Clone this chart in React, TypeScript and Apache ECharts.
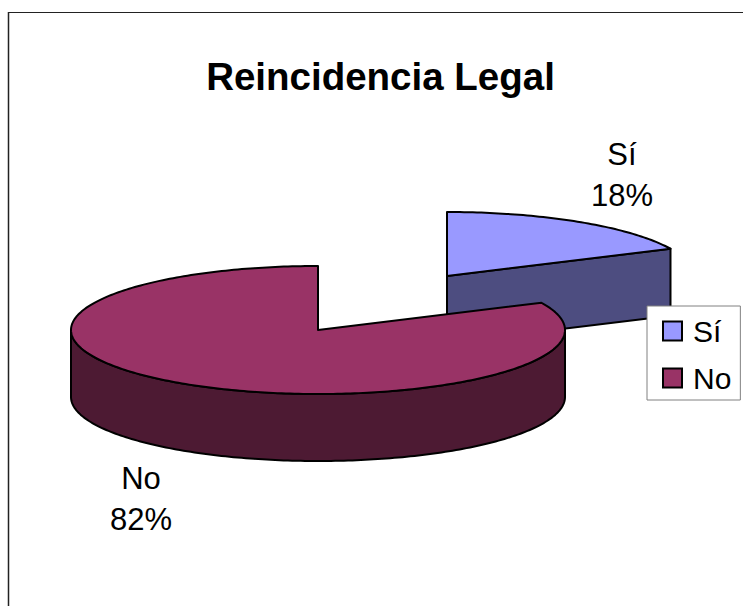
import React, { useEffect, useRef } from "react";
import * as echarts from "echarts";

const categories = ["Sí", "No"];
const values = [18, 82];
const topColors = ["#9999FF", "#993366"];
const sideColors = ["#4D4D80", "#4D1A33"];
const titleText = "Reincidencia Legal";

const FONT = "Liberation Sans, Arial, sans-serif";
const RX = 247;
const RY = 64;
const DEPTH = 67;
const centres = [
  [447, 276],
  [318, 330],
];
const labelAnchors = [
  [622, 175],
  [141, 499],
];
const total = values.reduce((a, b) => a + b, 0);

function startAngle(index: number) {
  let sum = 0;
  for (let i = 0; i < index; i++) sum += values[i];
  return (sum / total) * 360;
}

function rim(cx: number, cy: number, from: number, to: number, dy = 0) {
  const pts: number[][] = [];
  const n = Math.max(2, Math.ceil(Math.abs(to - from)));
  for (let i = 0; i <= n; i++) {
    const t = ((from + ((to - from) * i) / n) * Math.PI) / 180;
    pts.push([cx + RX * Math.sin(t), cy - RY * Math.cos(t) + dy]);
  }
  return pts;
}

const edge = { stroke: "#000", lineWidth: 2, lineJoin: "round" as const };

function poly(points: number[][], fill: string) {
  return { type: "polygon", shape: { points }, style: { fill, ...edge } };
}

function renderSlice(index: number) {
  return (_params: any, api: any) => {
    const value = api.value(0);
    const a0 = startAngle(index);
    const a1 = a0 + (value / total) * 360;
    const [cx, cy] = centres[index];
    const children: any[] = [];
    // cut face on the ending edge of the first slice
    if (a1 > 0 && a1 < 90) {
      const tip = rim(cx, cy, a1, a1)[0];
      children.push(
        poly(
          [
            [cx, cy],
            tip,
            [tip[0], tip[1] + DEPTH],
            [cx, cy + DEPTH],
          ],
          sideColors[index]
        )
      );
    }
    // front wall
    const wallFrom = Math.max(a0, 90);
    const wallTo = Math.min(a1, 270);
    if (wallTo > wallFrom) {
      const upper = rim(cx, cy, wallFrom, wallTo);
      const lower = rim(cx, cy, wallTo, wallFrom, DEPTH);
      children.push(poly([...upper, ...lower], sideColors[index]));
    }
    // top face
    children.push(poly([[cx, cy], ...rim(cx, cy, a0, a1)], topColors[index]));
    const [lx, ly] = labelAnchors[index];
    children.push({
      type: "text",
      x: lx,
      y: ly,
      style: {
        text: `${categories[index]}\n${Math.round((value / total) * 100)}%`,
        font: `31px ${FONT}`,
        lineHeight: 41,
        fill: "#000",
        align: "center",
        verticalAlign: "middle",
      },
    });
    return { type: "group", children };
  };
}

export default function App() {
  const ref = useRef<HTMLDivElement>(null);
  useEffect(() => {
    const chart = echarts.init(ref.current!, undefined, { renderer: "svg" });
    chart.setOption({
      animation: false,
      backgroundColor: "#fff",
      title: {
        text: titleText,
        left: 375.5,
        top: 52,
        textAlign: "center",
        textStyle: { fontFamily: FONT, fontWeight: "bold", fontSize: 38.5, color: "#000" },
      },
      legend: {
        orient: "vertical",
        left: 647,
        top: 306,
        padding: [10, 9, 7, 15],
        backgroundColor: "#fff",
        borderColor: "#808080",
        borderWidth: 1,
        itemWidth: 19,
        itemHeight: 19,
        itemGap: 17,
        icon: "rect",
        data: categories,
        itemStyle: { borderColor: "#000", borderWidth: 2 },
        textStyle: {
          fontFamily: FONT,
          fontSize: 30,
          lineHeight: 27,
          color: "#000",
          padding: [0, 0, 0, 6],
        },
      },
      graphic: [
        { type: "line", shape: { x1: 8.5, y1: 12.5, x2: 743, y2: 12.5 }, style: { stroke: "#222", lineWidth: 1 } },
        { type: "line", shape: { x1: 8.5, y1: 12, x2: 8.5, y2: 606 }, style: { stroke: "#222", lineWidth: 1.5 } },
      ],
      series: categories.map((name, i) => ({
        type: "custom",
        name,
        coordinateSystem: "none",
        silent: true,
        itemStyle: { color: topColors[i] },
        data: [[values[i]]],
        encode: { value: 0 },
        renderItem: renderSlice(i),
      })),
    });
    return () => chart.dispose();
  }, []);
  return <div ref={ref} style={{ position: "fixed", left: 0, top: 0, width: 743, height: 606 }} />;
}
